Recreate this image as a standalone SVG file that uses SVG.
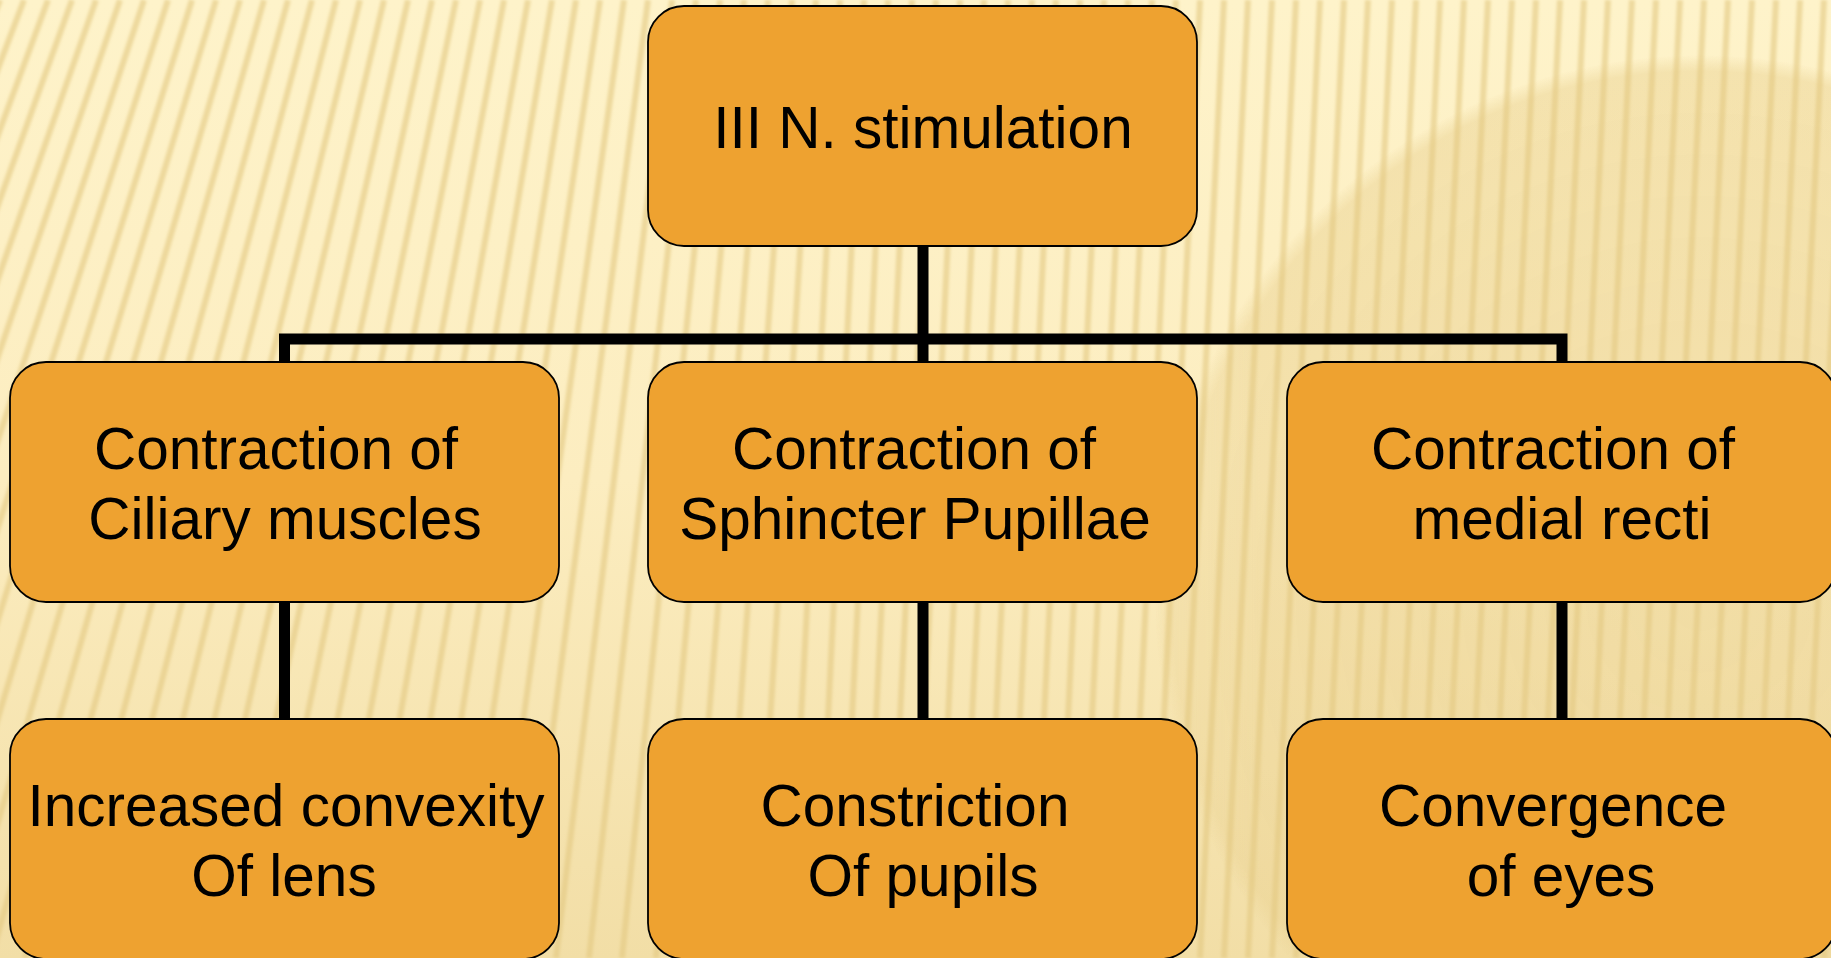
<svg xmlns="http://www.w3.org/2000/svg" width="1831" height="958" viewBox="0 0 1831 958">
<defs>
<linearGradient id="bg" x1="0" y1="0" x2="0" y2="1">
<stop offset="0" stop-color="#FEF3CA"/>
<stop offset="0.5" stop-color="#FCEDC0"/>
<stop offset="1" stop-color="#F2DEA6"/>
</linearGradient>
<radialGradient id="shade" cx="1700" cy="600" r="545" gradientUnits="userSpaceOnUse">
<stop offset="0" stop-color="#EBD394" stop-opacity="0.55"/>
<stop offset="0.97" stop-color="#EBD394" stop-opacity="0.5"/>
<stop offset="1" stop-color="#EBD394" stop-opacity="0"/>
</radialGradient>
<linearGradient id="fadeL" x1="1000" y1="0" x2="1260" y2="0" gradientUnits="userSpaceOnUse">
<stop offset="0" stop-color="#fff" stop-opacity="0.2"/>
<stop offset="1" stop-color="#fff" stop-opacity="1"/>
</linearGradient>
<mask id="circMask" maskUnits="userSpaceOnUse" x="0" y="0" width="1831" height="958">
<rect x="0" y="0" width="1831" height="958" fill="url(#fadeL)"/>
</mask>
<filter id="soft" x="-5%" y="-5%" width="110%" height="110%">
<feGaussianBlur stdDeviation="1.8"/>
</filter>
<style>
.box{fill:#EEA230;stroke:#000;stroke-width:1.8}
.lbl{font-family:"Liberation Sans",Arial,sans-serif;font-size:58.5px;fill:#000;text-anchor:middle}
.con{fill:none;stroke:#000;stroke-width:11;stroke-linejoin:miter;stroke-linecap:butt}
.stripe{fill:none;stroke:#E2C880;stroke-width:6;stroke-opacity:0.6}
</style>
</defs>
<g id="background">
<rect x="0" y="0" width="1831" height="958" fill="url(#bg)"/>
<circle cx="1700" cy="600" r="545" fill="url(#shade)" mask="url(#circMask)"/>
<path class="stripe" filter="url(#soft)" d="M0 0L-374 958M24 0L-340 958M48 0L-307 958M72 0L-274 958M96 0L-241 958M120 0L-208 958M144 0L-174 958M168 0L-141 958M192 0L-108 958M216 0L-75 958M240 0L-42 958M264 0L-9 958M288 0L25 958M312 0L58 958M336 0L91 958M360 0L124 958M384 0L158 958M408 0L191 958M432 0L224 958M456 0L257 958M480 0L290 958M504 0L324 958M528 0L357 958M552 0L390 958M576 0L423 958M600 0L456 958M624 0L490 958M648 0L523 958M672 0L556 958M696 0L589 958M720 0L622 958M744 0L656 958M768 0L689 958M792 0L722 958M816 0L755 958M840 0L788 958M864 0L816 958M888 0L840 958M912 0L864 958M936 0L888 958M960 0L912 958M984 0L936 958M1008 0L960 958M1032 0L984 958M1056 0L1008 958M1080 0L1032 958M1104 0L1056 958M1128 0L1080 958M1152 0L1104 958M1176 0L1128 958M1200 0L1152 958M1224 0L1176 958M1248 0L1200 958M1272 0L1224 958M1296 0L1248 958M1320 0L1272 958M1344 0L1296 958M1368 0L1320 958M1392 0L1344 958M1416 0L1368 958M1440 0L1392 958M1464 0L1416 958M1488 0L1440 958M1512 0L1464 958M1536 0L1488 958M1560 0L1512 958M1584 0L1536 958M1608 0L1560 958M1632 0L1584 958M1656 0L1608 958M1680 0L1632 958M1704 0L1656 958M1728 0L1680 958M1752 0L1704 958M1776 0L1728 958M1800 0L1752 958M1824 0L1776 958M1848 0L1800 958M1872 0L1824 958"/>
</g>
<g id="connectors">
<path class="con" d="M923 246V339"/>
<path class="con" d="M284.5 362V339H1562V362"/>
<path class="con" d="M923 339V362"/>
<path class="con" d="M284.5 602V719"/>
<path class="con" d="M923 602V719"/>
<path class="con" d="M1562 602V719"/>
</g>
<g id="n-top">
<rect class="box" x="648" y="6" width="549" height="240" rx="36" ry="36"/>
<text class="lbl" x="923" y="148">III N. stimulation</text>
</g>
<g id="n-ciliary">
<rect class="box" x="10" y="362" width="549" height="240" rx="36" ry="36"/>
<text class="lbl" x="276" y="469">Contraction of</text>
<text class="lbl" x="285" y="539">Ciliary muscles</text>
</g>
<g id="n-sphincter">
<rect class="box" x="648" y="362" width="549" height="240" rx="36" ry="36"/>
<text class="lbl" x="914" y="469">Contraction of</text>
<text class="lbl" x="915" y="539">Sphincter Pupillae</text>
</g>
<g id="n-medial">
<rect class="box" x="1287" y="362" width="549" height="240" rx="36" ry="36"/>
<text class="lbl" x="1553" y="469">Contraction of</text>
<text class="lbl" x="1562" y="539">medial recti</text>
</g>
<g id="n-lens">
<rect class="box" x="10" y="719" width="549" height="240" rx="36" ry="36"/>
<text class="lbl" x="286" y="826">Increased convexity</text>
<text class="lbl" x="284" y="896">Of lens</text>
</g>
<g id="n-pupils">
<rect class="box" x="648" y="719" width="549" height="240" rx="36" ry="36"/>
<text class="lbl" x="915" y="826">Constriction</text>
<text class="lbl" x="923" y="896">Of pupils</text>
</g>
<g id="n-eyes">
<rect class="box" x="1287" y="719" width="549" height="240" rx="36" ry="36"/>
<text class="lbl" x="1553" y="826">Convergence</text>
<text class="lbl" x="1561" y="896">of eyes</text>
</g>
</svg>
